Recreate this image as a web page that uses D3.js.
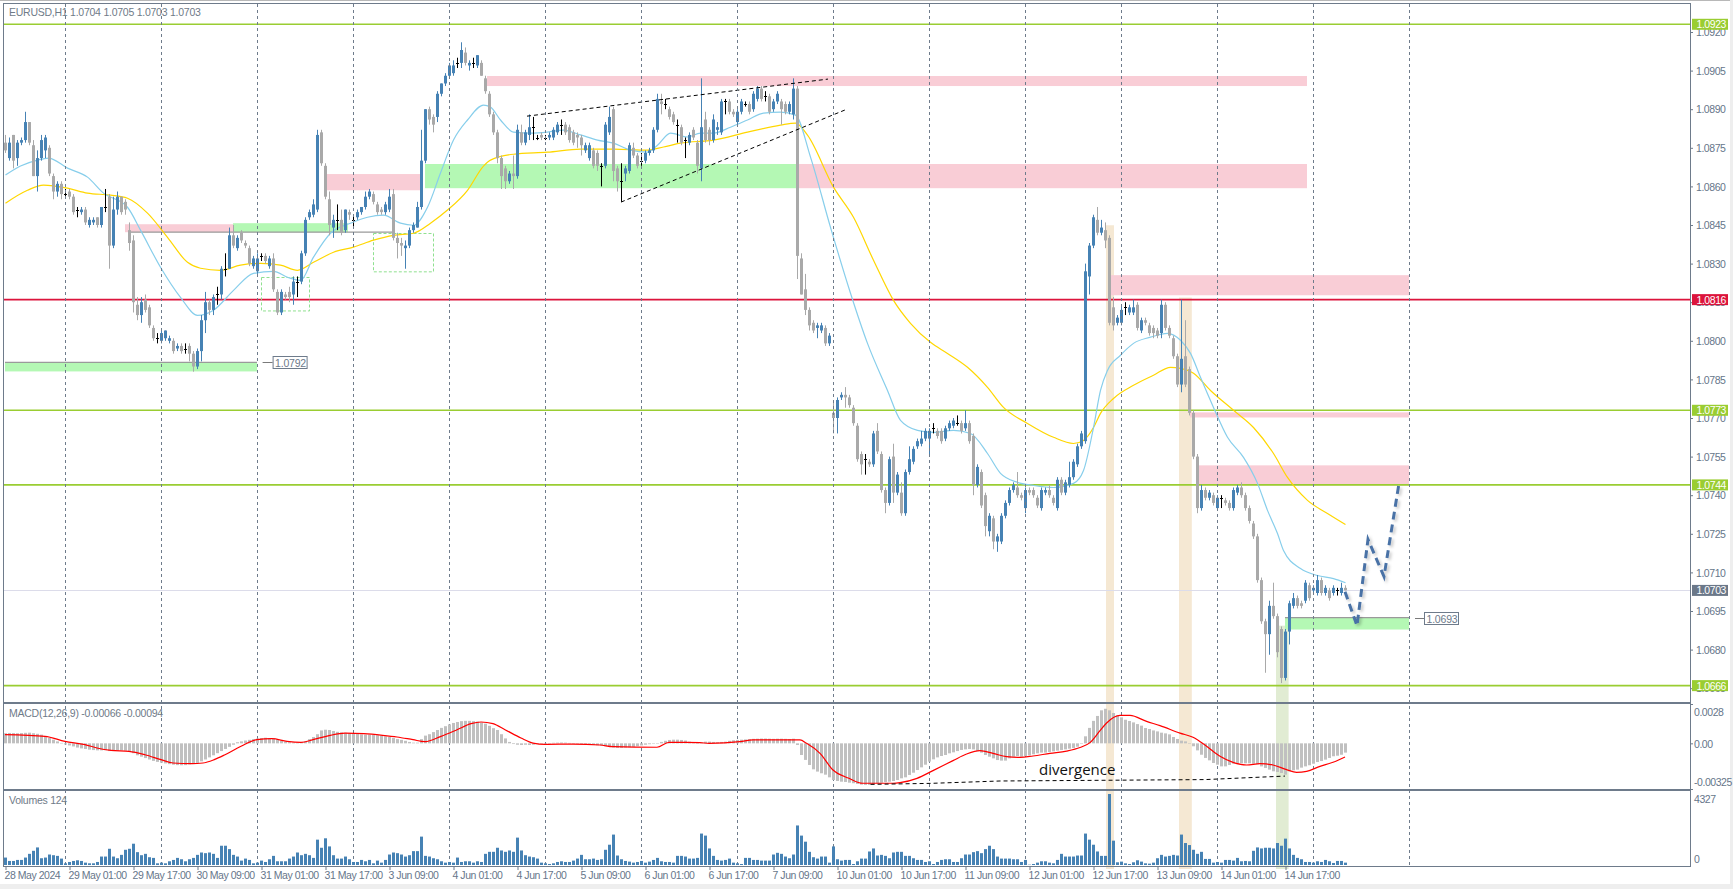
<!DOCTYPE html>
<html><head><meta charset="utf-8">
<script src="https://cdn.jsdelivr.net/npm/d3@7"></script>
<style>
html,body{margin:0;padding:0;background:#fff;overflow:hidden;}
svg{display:block;font-family:"Liberation Sans",Arial,sans-serif;}
</style></head><body>
<svg id="chart" width="1733" height="889"></svg>
<script>
// ---------------- DATA ----------------
const symbolHeader = "EURUSD,H1  1.0704 1.0705 1.0703 1.0703";
const macdHeader = "MACD(12,26,9) -0.00066 -0.00094";
const volHeader = "Volumes 124";

const open = [
1.0877,1.0871,1.0880,1.0871,1.0877,1.0878,1.0885,1.0876,1.0864,1.0871,
1.0874,1.0875,1.0864,1.0858,1.0861,1.0857,1.0858,1.0856,1.0851,1.0850,
1.0851,1.0845,1.0846,1.0848,1.0845,1.0852,1.0856,1.0837,1.0851,1.0856,
1.0854,1.0843,1.0839,1.0814,1.0810,1.0816,1.0813,1.0805,1.0801,1.0800,
1.0801,1.0800,1.0800,1.0797,1.0798,1.0797,1.0798,1.0795,1.0790,1.0796,
1.0808,1.0815,1.0812,1.0818,1.0818,1.0828,1.0828,1.0841,1.0836,1.0842,
1.0838,1.0836,1.0829,1.0827,1.0833,1.0833,1.0829,1.0832,1.0819,1.0811,
1.0818,1.0819,1.0818,1.0823,1.0823,1.0834,1.0848,1.0849,1.0851,1.0881,
1.0868,1.0855,1.0844,1.0847,1.0847,1.0843,1.0850,1.0847,1.0848,1.0850,
1.0852,1.0856,1.0857,1.0853,1.0851,1.0850,1.0851,1.0857,1.0840,1.0838,
1.0836,1.0837,1.0843,1.0844,1.0852,1.0870,1.0890,1.0887,1.0887,1.0896,
1.0900,1.0903,1.0904,1.0908,1.0908,1.0912,1.0907,1.0908,1.0907,1.0908,
1.0902,1.0896,1.0888,1.0881,1.0871,1.0867,1.0862,1.0865,1.0864,1.0881,
1.0877,1.0880,1.0883,1.0879,1.0880,1.0879,1.0879,1.0879,1.0881,1.0884,
1.0884,1.0883,1.0881,1.0880,1.0879,1.0874,1.0871,1.0874,1.0873,1.0868,
1.0868,1.0881,1.0890,1.0867,1.0862,1.0865,1.0866,1.0875,1.0872,1.0870,
1.0870,1.0873,1.0874,1.0882,1.0893,1.0892,1.0890,1.0888,1.0884,1.0883,
1.0878,1.0877,1.0882,1.0877,1.0867,1.0886,1.0882,1.0878,1.0882,1.0881,
1.0893,1.0893,1.0889,1.0885,1.0889,1.0892,1.0892,1.0890,1.0894,1.0898,
1.0895,1.0895,1.0890,1.0893,1.0893,1.0892,1.0889,1.0888,1.0898,1.0832,
1.0820,1.0812,1.0807,1.0805,1.0804,1.0805,1.0799,1.0772,1.0770,1.0778,
1.0779,1.0778,1.0774,1.0767,1.0756,1.0754,1.0753,1.0752,1.0765,1.0756,
1.0742,1.0737,1.0755,1.0741,1.0741,1.0733,1.0749,1.0753,1.0759,1.0760,
1.0762,1.0762,1.0766,1.0765,1.0765,1.0762,1.0766,1.0767,1.0768,1.0768,
1.0766,1.0768,1.0763,1.0744,1.0749,1.0740,1.0726,1.0731,1.0722,1.0722,
1.0732,1.0737,1.0742,1.0743,1.0740,1.0735,1.0742,1.0742,1.0739,1.0735,
1.0741,1.0742,1.0739,1.0735,1.0746,1.0741,1.0744,1.0747,1.0752,1.0759,
1.0761,1.0825,1.0837,1.0847,1.0842,1.0843,1.0840,1.0813,1.0807,1.0807,
1.0813,1.0811,1.0811,1.0814,1.0804,1.0808,1.0806,1.0805,1.0804,1.0803,
1.0814,1.0805,1.0801,1.0794,1.0783,1.0794,1.0789,1.0772,1.0755,1.0735,
1.0742,1.0739,1.0740,1.0735,1.0739,1.0738,1.0737,1.0735,1.0741,1.0743,
1.0740,1.0735,1.0729,1.0724,1.0707,1.0691,1.0686,1.0697,1.0693,1.0688,
1.0669,1.0687,1.0697,1.0700,1.0698,1.0699,1.0705,1.0703,1.0702,1.0707,
1.0702,1.0703,1.0702,1.0703,1.0702,1.0704];

const high = [
1.0880,1.0879,1.0880,1.0878,1.0879,1.0889,1.0885,1.0878,1.0874,1.0880,
1.0880,1.0876,1.0865,1.0862,1.0862,1.0859,1.0859,1.0857,1.0852,1.0852,
1.0852,1.0848,1.0848,1.0848,1.0852,1.0859,1.0857,1.0856,1.0858,1.0856,
1.0855,1.0846,1.0841,1.0817,1.0817,1.0818,1.0814,1.0806,1.0803,1.0804,
1.0804,1.0802,1.0801,1.0799,1.0799,1.0799,1.0799,1.0796,1.0797,1.0810,
1.0819,1.0816,1.0818,1.0821,1.0829,1.0834,1.0844,1.0845,1.0841,1.0843,
1.0839,1.0837,1.0833,1.0834,1.0834,1.0834,1.0833,1.0834,1.0820,1.0820,
1.0819,1.0821,1.0825,1.0825,1.0835,1.0848,1.0851,1.0855,1.0882,1.0882,
1.0869,1.0858,1.0849,1.0853,1.0851,1.0851,1.0851,1.0849,1.0851,1.0852,
1.0858,1.0859,1.0858,1.0854,1.0852,1.0854,1.0859,1.0859,1.0842,1.0840,
1.0839,1.0844,1.0846,1.0854,1.0882,1.0890,1.0891,1.0888,1.0897,1.0900,
1.0904,1.0908,1.0909,1.0910,1.0916,1.0914,1.0909,1.0910,1.0911,1.0909,
1.0903,1.0897,1.0889,1.0882,1.0872,1.0868,1.0866,1.0872,1.0884,1.0884,
1.0882,1.0888,1.0887,1.0880,1.0881,1.0880,1.0881,1.0883,1.0885,1.0886,
1.0885,1.0884,1.0882,1.0881,1.0880,1.0877,1.0877,1.0875,1.0874,1.0869,
1.0885,1.0891,1.0891,1.0868,1.0869,1.0868,1.0877,1.0877,1.0873,1.0873,
1.0874,1.0875,1.0883,1.0896,1.0896,1.0894,1.0891,1.0889,1.0886,1.0884,
1.0879,1.0881,1.0883,1.0878,1.0902,1.0889,1.0883,1.0888,1.0885,1.0894,
1.0894,1.0894,1.0890,1.0890,1.0894,1.0893,1.0893,1.0897,1.0899,1.0899,
1.0897,1.0896,1.0894,1.0897,1.0894,1.0893,1.0893,1.0902,1.0899,1.0834,
1.0826,1.0813,1.0808,1.0807,1.0807,1.0806,1.0803,1.0776,1.0778,1.0780,
1.0782,1.0779,1.0775,1.0768,1.0757,1.0756,1.0754,1.0765,1.0768,1.0757,
1.0743,1.0755,1.0760,1.0749,1.0745,1.0750,1.0759,1.0759,1.0762,1.0765,
1.0766,1.0766,1.0768,1.0766,1.0766,1.0767,1.0769,1.0770,1.0771,1.0769,
1.0773,1.0769,1.0764,1.0752,1.0750,1.0741,1.0733,1.0732,1.0725,1.0733,
1.0738,1.0743,1.0745,1.0749,1.0741,1.0743,1.0743,1.0743,1.0740,1.0743,
1.0743,1.0744,1.0740,1.0747,1.0747,1.0746,1.0753,1.0754,1.0760,1.0765,
1.0830,1.0838,1.0849,1.0852,1.0847,1.0846,1.0841,1.0817,1.0810,1.0814,
1.0815,1.0814,1.0816,1.0815,1.0809,1.0809,1.0807,1.0806,1.0805,1.0816,
1.0815,1.0806,1.0802,1.0795,1.0816,1.0808,1.0790,1.0773,1.0756,1.0744,
1.0743,1.0742,1.0741,1.0740,1.0740,1.0739,1.0738,1.0743,1.0744,1.0745,
1.0741,1.0736,1.0730,1.0725,1.0708,1.0692,1.0699,1.0706,1.0694,1.0689,
1.0688,1.0699,1.0702,1.0701,1.0699,1.0707,1.0706,1.0705,1.0709,1.0708,
1.0705,1.0704,1.0705,1.0704,1.0706,1.0705];

const low = [
1.0873,1.0870,1.0867,1.0868,1.0876,1.0877,1.0876,1.0864,1.0858,1.0870,
1.0871,1.0864,1.0855,1.0856,1.0855,1.0856,1.0855,1.0849,1.0848,1.0849,
1.0845,1.0844,1.0845,1.0844,1.0844,1.0850,1.0828,1.0836,1.0849,1.0849,
1.0849,1.0835,1.0811,1.0808,1.0807,1.0811,1.0805,1.0800,1.0799,1.0799,
1.0800,1.0799,1.0795,1.0796,1.0795,1.0795,1.0792,1.0788,1.0789,1.0792,
1.0803,1.0810,1.0810,1.0814,1.0816,1.0825,1.0828,1.0836,1.0835,1.0838,
1.0836,1.0829,1.0828,1.0826,1.0831,1.0830,1.0828,1.0819,1.0810,1.0810,
1.0816,1.0815,1.0814,1.0817,1.0822,1.0833,1.0847,1.0848,1.0850,1.0868,
1.0855,1.0841,1.0840,1.0843,1.0841,1.0842,1.0847,1.0844,1.0847,1.0849,
1.0851,1.0855,1.0853,1.0849,1.0849,1.0849,1.0850,1.0839,1.0832,1.0833,
1.0828,1.0836,1.0842,1.0844,1.0851,1.0869,1.0884,1.0881,1.0885,1.0895,
1.0899,1.0902,1.0903,1.0906,1.0906,1.0907,1.0905,1.0906,1.0906,1.0903,
1.0896,1.0887,1.0880,1.0869,1.0859,1.0859,1.0861,1.0859,1.0863,1.0876,
1.0876,1.0878,1.0878,1.0878,1.0878,1.0878,1.0878,1.0878,1.0880,1.0880,
1.0880,1.0877,1.0876,1.0875,1.0872,1.0873,1.0870,1.0867,1.0866,1.0860,
1.0867,1.0880,1.0862,1.0858,1.0854,1.0862,1.0865,1.0871,1.0867,1.0868,
1.0869,1.0872,1.0873,1.0881,1.0888,1.0890,1.0886,1.0884,1.0877,1.0876,
1.0871,1.0876,1.0878,1.0865,1.0862,1.0877,1.0876,1.0877,1.0880,1.0880,
1.0888,1.0888,1.0887,1.0884,1.0888,1.0891,1.0888,1.0889,1.0893,1.0893,
1.0893,1.0888,1.0889,1.0892,1.0884,1.0888,1.0888,1.0886,1.0824,1.0818,
1.0810,1.0804,1.0803,1.0801,1.0803,1.0798,1.0798,1.0764,1.0764,1.0777,
1.0774,1.0774,1.0767,1.0753,1.0748,1.0748,1.0751,1.0751,1.0756,1.0741,
1.0733,1.0736,1.0737,1.0740,1.0732,1.0732,1.0748,1.0752,1.0758,1.0759,
1.0761,1.0755,1.0764,1.0762,1.0760,1.0761,1.0765,1.0766,1.0767,1.0764,
1.0765,1.0760,1.0740,1.0743,1.0735,1.0724,1.0724,1.0719,1.0718,1.0721,
1.0731,1.0736,1.0741,1.0739,1.0738,1.0733,1.0740,1.0739,1.0735,1.0734,
1.0740,1.0739,1.0736,1.0734,1.0740,1.0740,1.0743,1.0746,1.0751,1.0758,
1.0760,1.0818,1.0836,1.0841,1.0841,1.0836,1.0806,1.0804,1.0806,1.0806,
1.0810,1.0810,1.0810,1.0804,1.0803,1.0806,1.0802,1.0801,1.0801,1.0801,
1.0804,1.0801,1.0793,1.0782,1.0780,1.0782,1.0771,1.0754,1.0733,1.0734,
1.0738,1.0738,1.0736,1.0734,1.0735,1.0736,1.0734,1.0734,1.0740,1.0739,
1.0734,1.0729,1.0723,1.0706,1.0690,1.0671,1.0678,1.0692,1.0677,1.0667,
1.0668,1.0682,1.0696,1.0696,1.0696,1.0698,1.0699,1.0702,1.0701,1.0701,
1.0701,1.0699,1.0701,1.0701,1.0701,1.0703];

const close = [
1.0874,1.0877,1.0870,1.0877,1.0878,1.0885,1.0877,1.0864,1.0871,1.0878,
1.0879,1.0865,1.0858,1.0861,1.0857,1.0857,1.0856,1.0850,1.0851,1.0851,
1.0846,1.0847,1.0847,1.0845,1.0852,1.0852,1.0837,1.0851,1.0856,1.0850,
1.0851,1.0838,1.0815,1.0810,1.0815,1.0812,1.0806,1.0801,1.0801,1.0803,
1.0804,1.0801,1.0796,1.0798,1.0796,1.0797,1.0795,1.0790,1.0796,1.0808,
1.0815,1.0812,1.0817,1.0818,1.0828,1.0828,1.0841,1.0837,1.0840,1.0839,
1.0837,1.0830,1.0832,1.0832,1.0833,1.0831,1.0832,1.0820,1.0811,1.0819,
1.0817,1.0817,1.0823,1.0823,1.0834,1.0847,1.0850,1.0853,1.0880,1.0869,
1.0856,1.0845,1.0847,1.0847,1.0842,1.0851,1.0849,1.0847,1.0850,1.0852,
1.0856,1.0858,1.0854,1.0850,1.0850,1.0853,1.0856,1.0840,1.0838,1.0837,
1.0837,1.0843,1.0845,1.0852,1.0870,1.0890,1.0886,1.0884,1.0896,1.0900,
1.0903,1.0907,1.0907,1.0908,1.0913,1.0908,1.0908,1.0908,1.0911,1.0903,
1.0897,1.0888,1.0881,1.0871,1.0864,1.0862,1.0865,1.0864,1.0882,1.0877,
1.0881,1.0883,1.0883,1.0879,1.0879,1.0879,1.0880,1.0882,1.0884,1.0884,
1.0881,1.0878,1.0877,1.0879,1.0876,1.0876,1.0876,1.0868,1.0868,1.0868,
1.0884,1.0887,1.0866,1.0862,1.0862,1.0867,1.0876,1.0872,1.0868,1.0870,
1.0873,1.0874,1.0882,1.0894,1.0892,1.0892,1.0887,1.0885,1.0884,1.0877,
1.0878,1.0880,1.0879,1.0868,1.0883,1.0878,1.0878,1.0886,1.0883,1.0893,
1.0893,1.0889,1.0888,1.0889,1.0893,1.0892,1.0889,1.0896,1.0898,1.0894,
1.0895,1.0889,1.0893,1.0896,1.0890,1.0889,1.0892,1.0898,1.0833,1.0818,
1.0812,1.0806,1.0804,1.0806,1.0806,1.0799,1.0802,1.0770,1.0777,1.0779,
1.0778,1.0775,1.0768,1.0754,1.0752,1.0754,1.0752,1.0764,1.0757,1.0742,
1.0737,1.0754,1.0741,1.0748,1.0733,1.0749,1.0754,1.0758,1.0761,1.0762,
1.0765,1.0765,1.0766,1.0763,1.0761,1.0766,1.0768,1.0769,1.0768,1.0765,
1.0768,1.0761,1.0744,1.0751,1.0736,1.0728,1.0732,1.0722,1.0724,1.0732,
1.0737,1.0742,1.0744,1.0740,1.0739,1.0742,1.0741,1.0740,1.0736,1.0742,
1.0742,1.0740,1.0737,1.0746,1.0741,1.0745,1.0747,1.0753,1.0759,1.0764,
1.0827,1.0837,1.0848,1.0842,1.0844,1.0839,1.0807,1.0806,1.0809,1.0812,
1.0813,1.0813,1.0813,1.0805,1.0808,1.0807,1.0803,1.0803,1.0802,1.0814,
1.0805,1.0802,1.0794,1.0783,1.0793,1.0783,1.0772,1.0755,1.0735,1.0742,
1.0739,1.0741,1.0737,1.0739,1.0739,1.0737,1.0735,1.0742,1.0743,1.0740,
1.0735,1.0730,1.0724,1.0707,1.0691,1.0686,1.0697,1.0693,1.0679,1.0669,
1.0687,1.0698,1.0700,1.0697,1.0697,1.0706,1.0700,1.0704,1.0707,1.0702,
1.0704,1.0700,1.0704,1.0703,1.0704,1.0703];

const volume = [
453,247,247,309,309,453,680,865,1071,412,
453,639,597,556,391,103,185,247,288,247,
144,103,103,185,515,515,989,515,412,618,
927,989,1298,783,597,680,474,433,103,144,
103,227,309,433,350,227,350,433,618,762,
721,762,680,433,1174,1174,968,618,515,268,
391,309,103,144,268,185,350,556,227,227,
227,391,515,762,597,680,597,433,1545,1051,
1627,1133,597,391,391,515,350,185,185,309,
227,309,103,268,144,309,639,762,721,639,
515,597,845,845,1730,556,515,412,350,227,
144,185,144,453,185,227,227,144,227,185,
680,803,803,1051,886,803,886,803,1669,886,
597,515,474,391,144,103,62,103,185,227,
185,185,268,391,618,350,350,391,309,
350,927,1236,1854,577,350,247,206,144,185,
247,144,206,309,433,227,185,185,144,556,
556,515,391,391,433,1916,1792,1009,556,309,
268,309,391,144,103,62,433,433,309,309,
268,268,268,639,742,680,515,412,639,2410,
1792,1421,803,474,391,515,515,144,1133,350,
268,309,309,62,227,391,391,824,1009,577,
618,556,412,762,803,803,556,556,412,309,
309,185,227,62,185,309,350,350,185,185,
412,639,639,783,845,721,968,1174,968,515,
391,391,391,350,350,185,309,20,62,144,
227,227,144,103,309,680,515,515,515,577,
577,1916,1545,1236,824,
556,556,4327,1483,165,206,103,62,165,288,
206,103,82,144,412,618,515,556,618,577,
1854,1339,1215,927,680,803,371,371,144,185,
144,309,309,268,433,227,247,227,865,1071,
1009,1051,1051,1009,1339,1174,1607,1009,618,433,
350,185,185,144,227,185,309,227,124,247,
247,144];

// MACD main (histogram), in units of 0.00001
const macdHist = [
72,74,73,72,73,75,76,72,68,62,
50,38,26,14,3,-8,-15,-22,-30,-36,
-40,-45,-48,-50,-50,-48,-55,-55,-52,-50,
-52,-58,-70,-85,-95,-105,-115,-125,-132,-138,
-143,-148,-152,-155,-156,-155,-150,-148,-140,-128,
-115,-100,-85,-70,-55,-40,-25,-10,8,14,
20,25,30,34,38,40,38,36,28,18,
12,8,6,5,8,15,30,45,65,92,
97,95,88,82,78,75,72,68,66,64,
62,62,60,58,55,50,45,38,30,25,
18,10,5,5,30,55,65,80,95,110,
122,135,145,152,158,160,160,158,155,148,
140,125,108,95,65,35,10,-5,-10,-12,
-10,-12,-10,-5,-2,0,2,4,5,6,
5,3,0,-3,-6,-8,-10,-12,-14,
-15,-20,-25,-30,-33,-33,-30,-28,-25,-20,
-15,-10,-6,-3,0,10,18,24,26,26,
24,20,12,6,2,5,12,12,10,8,
10,12,18,22,24,26,28,30,32,33,
34,34,33,32,33,33,32,31,33,-12,
-83,-118,-154,-185,-201,-213,-223,-242,-261,-268,
-273,-275,-280,-284,-289,-294,-296,-296,-292,-284,
-280,-275,-273,-268,-261,-249,-242,-225,-209,-190,
-171,-152,-130,-114,-100,-90,-83,-71,-64,-55,
-47,-43,-40,-43,-55,-66,-83,-95,-107,-119,
-123,-123,-107,-95,-90,-95,-90,-85,-78,-71,
-66,-66,-62,-57,-52,-47,-43,-38,-33,-24,
0,50,110,160,195,
235,246,235,216,197,185,168,159,149,137,
126,109,102,92,85,76,71,64,45,31,
19,14,2,-21,-50,-81,-104,-121,-140,-152,
-164,-164,-154,-145,-142,-142,-142,-142,-145,-149,
-164,-175,-187,-199,-204,-211,-223,-199,-192,-187,
-173,-164,-156,-145,-133,-126,-116,-104,-92,-88,
-81,-66];

// MACD signal line, [bar, value in 0.00001]
const macdSignal = [[0,62],[10,50],[15,14],[20,-9],[23,-33],[26.5,-50],[31,-57],[35,-81],[39,-116],[42,-140],[46.6,-145],[49.5,-140],[52.3,-116],[55,-81],[59,-21],[63,26],[66.7,33],[70.5,14],[74,7],[77,26],[81,55],[85,73],[89.7,69],[94.4,57],[98,45],[102,26],[105,12],[109,50],[113,97],[116.5,140],[119,152],[122,140],[125,97],[129,38],[132,2],[135,-7],[142,-5],[148.75,-12],[152,-24],[163,-28],[166,7],[170,7],[173.75,5],[176,0],[183.75,12],[187,24],[198.75,24],[200.4,0],[203.75,-71],[207,-190],[211,-249],[214.4,-284],[222,-284],[223.75,-280],[228,-249],[232,-194],[237,-123],[240.4,-76],[243.75,-52],[247,-71],[250.4,-95],[253.75,-100],[257,-90],[261.25,-71],[265.4,-55],[268.75,-30],[271.25,5],[273.75,90],[275.4,145],[278.75,199],[281.25,199],[285.4,156],[288.75,126],[293.75,73],[297,43],[300.4,-21],[303.75,-92],[307,-135],[310.4,-154],[313.75,-145],[317,-154],[320.4,-187],[322.9,-206],[325.4,-199],[328.75,-164],[332,-135],[335,-97]];

// moving averages, [bar, price]
const maFast = [[0,1.08644],[3.75,1.08679],[8,1.08702],[10.75,1.0871],[15.5,1.08671],[20.5,1.08636],[24.5,1.08574],[30.5,1.08519],[33.75,1.0843],[38.75,1.08286],[43.75,1.08169],[48,1.08099],[52,1.08119],[57,1.08196],[62,1.08262],[67,1.0827],[70.5,1.08247],[73.75,1.08235],[77,1.08325],[81.25,1.08418],[86.25,1.08457],[90.5,1.0848],[94.5,1.08488],[98.75,1.08457],[102,1.08449],[105.5,1.08519],[108.75,1.08652],[112,1.0878],[115.5,1.08858],[119.5,1.08916],[121.25,1.08908],[123.75,1.08858],[127,1.08811],[131.25,1.08807],[135.5,1.08811],[139.5,1.08819],[143.75,1.088],[148,1.0878],[152,1.08768],[156.25,1.08741],[160.5,1.08733],[163,1.0876],[166.25,1.08807],[170.5,1.08792],[173.75,1.08807],[177,1.08807],[181.25,1.0883],[185.5,1.08858],[189.5,1.08885],[193.75,1.08889],[197.5,1.08877],[201.25,1.08714],[206.25,1.08441],[211.25,1.08185],[215.5,1.0799],[220.5,1.07807],[223.75,1.07691],[228,1.07652],[232,1.07644],[237,1.07652],[241.25,1.0764],[245.5,1.07562],[248.75,1.07485],[253,1.0745],[257,1.07438],[262,1.0743],[267,1.07446],[269.5,1.07496],[272,1.07663],[273.75,1.07807],[275.5,1.07885],[278.75,1.07944],[282,1.0799],[286.25,1.08014],[290.5,1.08029],[293.75,1.08002],[296.25,1.07951],[298.75,1.07858],[302,1.07741],[305.5,1.07625],[309.5,1.07547],[313,1.07446],[315.5,1.07341],[318,1.07251],[319.5,1.07185],[323.75,1.07115],[328,1.07088],[332,1.07076],[335,1.0706]];
const maSlow = [[0,1.08535],[5.5,1.08585],[9.5,1.08605],[15.5,1.08593],[20.5,1.08574],[26.25,1.08566],[30.5,1.08554],[35.5,1.08496],[40.5,1.08402],[45.5,1.08305],[48.75,1.08282],[53.75,1.08274],[58.75,1.08294],[63.75,1.08301],[68.75,1.08294],[73,1.08274],[77,1.08305],[82,1.08344],[87,1.08364],[92,1.08391],[97,1.0841],[102,1.08418],[106.25,1.08457],[110.5,1.08508],[115.5,1.08585],[119.5,1.08679],[121.25,1.08702],[127,1.08725],[135.5,1.08733],[143.75,1.08745],[152,1.08745],[160.5,1.08741],[164.5,1.08753],[168.75,1.08768],[177,1.0878],[185.5,1.08811],[193.75,1.08838],[197.5,1.08846],[200.5,1.08799],[207,1.08597],[212,1.0848],[217,1.08313],[222,1.08157],[226.25,1.08068],[231.25,1.07994],[235.5,1.07951],[240.5,1.07897],[245.5,1.07819],[249.5,1.07741],[255.5,1.07679],[262,1.07625],[267,1.07601],[269.5,1.07613],[272,1.07663],[273.75,1.07718],[277,1.07776],[282,1.07827],[287,1.07866],[291.25,1.07897],[293.75,1.07893],[297,1.07874],[301.25,1.07807],[307,1.0773],[312,1.07663],[317,1.07562],[320.5,1.07469],[325.5,1.0738],[330.5,1.07329],[335,1.07286]];

// axes
const timeLabels = ["28 May 2024","29 May 01:00","29 May 17:00","30 May 09:00","31 May 01:00","31 May 17:00","3 Jun 09:00","4 Jun 01:00","4 Jun 17:00","5 Jun 09:00","6 Jun 01:00","6 Jun 17:00","7 Jun 09:00","10 Jun 01:00","10 Jun 17:00","11 Jun 09:00","12 Jun 01:00","12 Jun 17:00","13 Jun 09:00","14 Jun 01:00","14 Jun 17:00"];
const timeLabelBars = [0,16,32,48,64,80,96,112,128,144,160,176,192,208,224,240,256,272,288,304,320];
const dayStartBars = [15,39,63,87,111,135,159,183,207,231,255,279,303,327,351];
const priceTicks = [1.0920,1.0905,1.0890,1.0875,1.0860,1.0845,1.0830,1.0815,1.0800,1.0785,1.0770,1.0755,1.0740,1.0725,1.0710,1.0695,1.0680,1.0665];
const macdTicks = [0.0028,0,-0.00325];
const macdTickText = ["0.0028","0.00","-0.00325"];
const volTicks = [4327,0];

// horizontal levels
const levelPrices = [1.0923,1.0816,1.0773,1.0744,1.0666];
const levelKinds  = ["green","red","green","green","green"];
const lastPrice = 1.0703;

// zones [startBar, endBar, priceTop, priceBottom, kind]
const zones = [
 [0,63,1.07916,1.07881,"g"],
 [30,57,1.08453,1.08422,"p"],
 [57,85.75,1.08457,1.08422,"g"],
 [80.5,104,1.08648,1.08585,"p"],
 [105,198,1.08687,1.08593,"g"],
 [120.5,325.5,1.09029,1.0899,"p"],
 [198,325.5,1.08687,1.08593,"p"],
 [276.25,351,1.08255,1.08177,"p"],
 [296.25,351,1.07722,1.07702,"p"],
 [298.25,351,1.07516,1.07438,"p"],
 [320,351,1.06924,1.06878,"g"]
];
const dashedBoxes = [[64,76,1.08246,1.08116],[92,107,1.08417,1.08268]];
const grayLines = [[31.25,97,1.08422],[0,63,1.07916],[320,351,1.06924]];
const priceTags = [[64.4,66.9,1.07916,"1.0792"],[352.5,354.75,1.06924,"1.0693"]];
const highlights = [[275.25,277.25,1.08449,"tan"],[293.5,296.7,1.08168,"tan"],[317.75,320.9,1.06893,"grn"]];
const wedgeUpper = [[130.5,1.08873],[205.75,1.09017]];
const wedgeLower = [[154,1.08539],[210,1.08897]];
const forecast = [[335,1.07025],[338,1.06893],[340.75,1.07228],[344.75,1.07084],[348.5,1.07446]];
const divergenceLine = [[216.4,-292],[231.25,-285],[248.75,-268],[300,-258],[320,-233]];
const divergenceText = {bar:258.5, value:-225, text:"divergence"};

// ---------------- DRAWING ----------------
const BLUE="#4682b4", GRAY="#a9a9a9", PINK="#f9cdd6", GREEN="#b4f8b4", LEVEL="#9acd32", RED="#dc143c";
const AXIS="#6e7b8b", TXT="#66768a";
const svg = d3.select("#chart");
const L=4, R=1690;
const P = {main:[4,702], macd:[704,789], vol:[791,866]};

const x = d3.scaleLinear().domain([0,336]).range([5,1349]);
const y = d3.scaleLinear().domain([1.0665,1.0920]).range([688.2,32]);
const ym = d3.scaleLinear().domain([-0.00325,0.0028]).range([789,704]);
const yv = d3.scaleLinear().domain([0,4327]).range([865,794]);

const defs = svg.append("defs");
function clip(id,y0,y1){defs.append("clipPath").attr("id",id).append("rect").attr("x",L).attr("y",y0).attr("width",R-L).attr("height",y1-y0);}
clip("cMain",P.main[0],P.main[1]); clip("cMacd",P.macd[0],P.macd[1]); clip("cVol",P.vol[0],P.vol[1]); clip("cAll",4,869);
const f = defs.append("filter").attr("id","shadow").attr("x","-50%").attr("y","-50%").attr("width","200%").attr("height","200%");
f.append("feDropShadow").attr("dx",2).attr("dy",2).attr("stdDeviation",1.8).attr("flood-color","#000").attr("flood-opacity",0.22);

// window frame
svg.append("rect").attr("x",0).attr("y",0).attr("width",1733).attr("height",1).attr("fill","#b8b8b8");
svg.append("rect").attr("x",0).attr("y",884).attr("width",1733).attr("height",5).attr("fill","#eeeeee");
svg.append("rect").attr("x",1730).attr("y",0).attr("width",3).attr("height",889).attr("fill","#eeeeee");

// highlight columns (behind everything)
svg.append("g").attr("clip-path","url(#cAll)").selectAll("rect").data(highlights).join("rect")
  .attr("x",d=>x(d[0])).attr("width",d=>x(d[1])-x(d[0]))
  .attr("y",d=>y(d[2])).attr("height",d=>869-y(d[2]))
  .attr("fill",d=>d[3]==="tan"?"#f5e8d3":"#e1ecd3");

// ---- main panel
const gm = svg.append("g").attr("clip-path","url(#cMain)");
gm.selectAll("rect.zone").data(zones).join("rect").attr("class","zone")
  .attr("x",d=>x(d[0])).attr("width",d=>x(d[1])-x(d[0]))
  .attr("y",d=>y(d[2])).attr("height",d=>y(d[3])-y(d[2]))
  .attr("fill",d=>d[4]==="p"?PINK:GREEN);

// vertical grid (all panels)
svg.append("g").selectAll("line").data(dayStartBars).join("line")
  .attr("x1",d=>x(d)+0.5).attr("x2",d=>x(d)+0.5).attr("y1",4).attr("y2",866)
  .attr("stroke",AXIS).attr("stroke-width",1).attr("stroke-dasharray","3,3");

// last price line
gm.append("line").attr("x1",L).attr("x2",R).attr("y1",Math.round(y(lastPrice))+0.5).attr("y2",Math.round(y(lastPrice))+0.5)
  .attr("stroke","#dcdcea").attr("stroke-width",1);
// levels
gm.selectAll("line.level").data(levelPrices).join("line").attr("class","level")
  .attr("x1",L).attr("x2",R).attr("y1",d=>y(d)).attr("y2",d=>y(d))
  .attr("stroke",(d,k)=>levelKinds[k]==="red"?RED:LEVEL).attr("stroke-width",1.6);

// dashed boxes
gm.selectAll("rect.dbox").data(dashedBoxes).join("rect").attr("class","dbox")
  .attr("x",d=>x(d[0])+0.5).attr("width",d=>x(d[1])-x(d[0]))
  .attr("y",d=>y(d[2])).attr("height",d=>y(d[3])-y(d[2]))
  .attr("fill","none").attr("stroke","#8fe08f").attr("stroke-width",1).attr("stroke-dasharray","3,2");

// gray lines
gm.selectAll("line.gl").data(grayLines).join("line").attr("class","gl")
  .attr("x1",d=>x(d[0])).attr("x2",d=>x(d[1])).attr("y1",d=>y(d[2])).attr("y2",d=>y(d[2]))
  .attr("stroke","#9a9a9a").attr("stroke-width",1.2);

// moving averages
const maLine = d3.line().x(d=>x(d[0])+0.5).y(d=>y(d[1])).curve(d3.curveMonotoneX);
gm.append("path").attr("d",maLine(maSlow)).attr("fill","none").attr("stroke","#ffd700").attr("stroke-width",1.2);
gm.append("path").attr("d",maLine(maFast)).attr("fill","none").attr("stroke","#87ceeb").attr("stroke-width",1.2);

// candles
const bars = d3.range(close.length);
const cColor = i => close[i]>open[i]?BLUE:(close[i]<open[i]?GRAY:"#000");
gm.selectAll("line.wick").data(bars).join("line").attr("class","wick")
  .attr("x1",i=>x(i)+0.5).attr("x2",i=>x(i)+0.5)
  .attr("y1",i=>y(high[i])).attr("y2",i=>y(low[i]))
  .attr("stroke",cColor).attr("stroke-width",1);
gm.selectAll("rect.body").data(bars.filter(i=>open[i]!==close[i])).join("rect").attr("class","body")
  .attr("x",i=>x(i)-1).attr("width",3)
  .attr("y",i=>y(Math.max(open[i],close[i])))
  .attr("height",i=>Math.max(1,Math.abs(y(open[i])-y(close[i]))))
  .attr("fill",cColor);
gm.selectAll("line.doji").data(bars.filter(i=>open[i]===close[i])).join("line").attr("class","doji")
  .attr("x1",i=>x(i)-1).attr("x2",i=>x(i)+2)
  .attr("y1",i=>Math.round(y(close[i]))+0.5).attr("y2",i=>Math.round(y(close[i]))+0.5)
  .attr("stroke","#000").attr("stroke-width",1);

// wedge
const lin = d3.line().x(d=>x(d[0])).y(d=>y(d[1]));
[wedgeUpper,wedgeLower].forEach(w=>gm.append("path").attr("d",lin(w)).attr("fill","none")
  .attr("stroke","#000").attr("stroke-width",1).attr("stroke-dasharray","4,3"));

// price tags (boxes with connector)
priceTags.forEach(t=>{
  const yy = Math.round(y(t[2]))+0.5;
  gm.append("line").attr("x1",x(t[0])).attr("x2",x(t[1])).attr("y1",yy).attr("y2",yy).attr("stroke","#7a7a7a").attr("stroke-width",1);
  gm.append("rect").attr("x",x(t[1])+0.5).attr("y",yy-6).attr("width",34).attr("height",12)
    .attr("fill","#fff").attr("stroke",AXIS).attr("stroke-width",1);
  gm.append("text").attr("x",x(t[1])+2.5).attr("y",yy+4).text(t[3])
    .attr("font-size",10.5).attr("letter-spacing",-0.2).attr("fill","#6d7a8a");
});

// forecast
gm.append("path").attr("d",lin(forecast)).attr("fill","none").attr("stroke","#4a72a6")
  .attr("stroke-width",3).attr("stroke-dasharray","8,5").attr("filter","url(#shadow)");

// ---- MACD panel
const gM = svg.append("g").attr("clip-path","url(#cMacd)");
gM.selectAll("rect").data(bars).join("rect")
  .attr("x",i=>x(i)-1).attr("width",3)
  .attr("y",i=>Math.min(ym(0),ym(macdHist[i]*1e-5)))
  .attr("height",i=>Math.max(0.5,Math.abs(ym(macdHist[i]*1e-5)-ym(0))))
  .attr("fill","#c0c0c0");
gM.append("path").attr("d",d3.line().x(d=>x(d[0])).y(d=>ym(d[1]*1e-5)).curve(d3.curveMonotoneX)(macdSignal))
  .attr("fill","none").attr("stroke","#ff0000").attr("stroke-width",1.2);
gM.append("path").attr("d",d3.line().x(d=>x(d[0])).y(d=>ym(d[1]*1e-5))(divergenceLine))
  .attr("fill","none").attr("stroke","#000").attr("stroke-width",1).attr("stroke-dasharray","4,3");
gM.append("text").attr("x",x(divergenceText.bar)).attr("y",ym(divergenceText.value*1e-5))
  .attr("font-family","'Open Sans','Noto Sans',sans-serif").attr("font-size",15).attr("fill","#111").text(divergenceText.text);

// ---- Volume panel
const gV = svg.append("g").attr("clip-path","url(#cVol)");
gV.selectAll("rect").data(bars).join("rect")
  .attr("x",i=>x(i)-1).attr("width",3)
  .attr("y",i=>yv(volume[i])).attr("height",i=>yv(0)-yv(volume[i]))
  .attr("fill",BLUE);

// ---- panel frames
[P.main,P.macd,P.vol].forEach(p=>svg.append("rect").attr("x",L-0.5).attr("y",p[0]-0.5)
  .attr("width",R-L+1).attr("height",p[1]-p[0]+1).attr("fill","none").attr("stroke",AXIS).attr("stroke-width",1));

// ---- header texts
const hdr = (t,xx,yy)=>svg.append("text").attr("x",xx).attr("y",yy).text(t)
  .attr("font-size",10.5).attr("letter-spacing",-0.25).attr("fill","#6f7b88");
hdr(symbolHeader,9,16); hdr(macdHeader,9,717); hdr(volHeader,9,804);

// ---- axes
function styleAxis(g){ g.select(".domain").remove(); g.selectAll(".tick line").attr("stroke",AXIS);
  g.selectAll(".tick text").attr("fill",TXT).attr("font-size",10.5).attr("letter-spacing",-0.45)
   .attr("font-family","'Liberation Sans',Arial,sans-serif"); }
const gy = svg.append("g").attr("transform","translate(1690,0)")
  .call(d3.axisRight(y).tickValues(priceTicks).tickFormat(d3.format(".4f")).tickSize(3).tickPadding(3));
styleAxis(gy); gy.selectAll(".tick text").attr("dy",3.6);

const gmy = svg.append("g").attr("transform","translate(1690,0)")
  .call(d3.axisRight(ym).tickValues(macdTicks).tickFormat((d,k)=>macdTickText[k]).tickSize(3).tickPadding(1));
styleAxis(gmy); gmy.selectAll(".tick text").attr("dy",(d,k)=>[11,4.2,-3.5][k]);

const gvy = svg.append("g").attr("transform","translate(1690,0)")
  .call(d3.axisRight(yv).tickValues(volTicks).tickFormat(d3.format("d")).tickSize(0).tickPadding(4));
styleAxis(gvy); gvy.selectAll(".tick text").attr("dy",(d,k)=>[8,-2.3][k]);

const gx = svg.append("g").attr("transform","translate(0.5,866)")
  .call(d3.axisBottom(x).tickValues(timeLabelBars).tickFormat((d,k)=>timeLabels[k]).tickSize(4).tickSizeOuter(0));
styleAxis(gx); gx.selectAll(".tick text").attr("text-anchor","start").attr("x",-1.5).attr("y",13).attr("dy",0);

// ---- right-side level tags
const tags = levelPrices.map((p,k)=>({p, c: levelKinds[k]==="red"?RED:LEVEL})).concat([{p:lastPrice,c:"#6b7889"}]);
const gt = svg.append("g");
tags.forEach(t=>{
  const yy = y(t.p);
  gt.append("rect").attr("x",1692).attr("y",yy-5.5).attr("width",36).attr("height",11).attr("fill",t.c);
  gt.append("text").attr("x",1696.5).attr("y",yy+4).text(d3.format(".4f")(t.p))
    .attr("font-size",10.5).attr("letter-spacing",-0.45).attr("fill","#fff");
});
</script>
</body></html>
